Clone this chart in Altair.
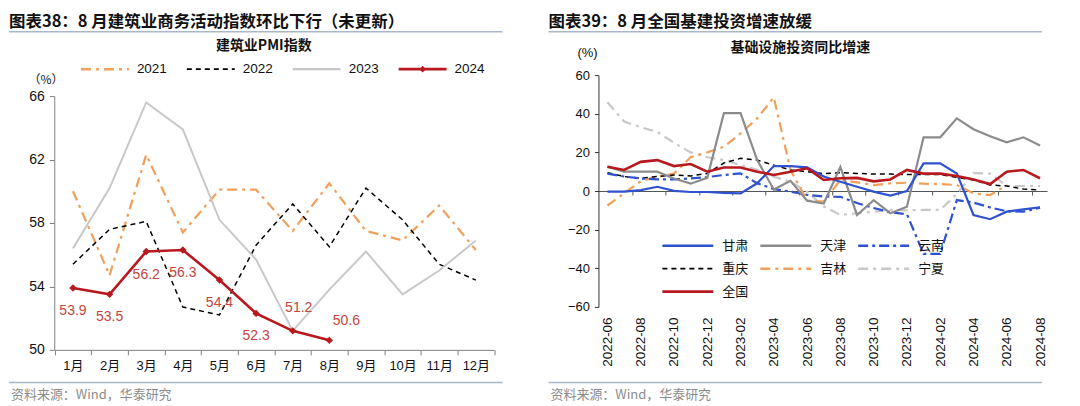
import json
import altair as alt
import pandas as pd

# ---------------- Left chart: 建筑业PMI指数 ----------------
pmi_months = list(range(1, 13))
pmi_years = ["2021", "2022", "2023", "2024"]
pmi_2021 = [60.0, 54.7, 62.3, 57.4, 60.1, 60.1, 57.5, 60.5, 57.5, 56.9, 59.1, 56.3]
pmi_2022 = [55.4, 57.6, 58.1, 52.7, 52.2, 56.6, 59.2, 56.5, 60.2, 58.2, 55.4, 54.4]
pmi_2023 = [56.4, 60.2, 65.6, 63.9, 58.2, 55.7, 51.2, 53.8, 56.2, 53.5, 55.0, 56.9]
pmi_2024 = [53.9, 53.5, 56.2, 56.3, 54.4, 52.3, 51.2, 50.6]
pmi_yticks = [50, 54, 58, 62, 66]

# ---------------- Right chart: 基础设施投资同比增速 ----------------
infra_periods = ["2022-06", "2022-07", "2022-08", "2022-09", "2022-10", "2022-11", "2022-12",
                 "2023-01", "2023-02", "2023-03", "2023-04", "2023-05", "2023-06", "2023-07",
                 "2023-08", "2023-09", "2023-10", "2023-11", "2023-12", "2024-01", "2024-02",
                 "2024-03", "2024-04", "2024-05", "2024-06", "2024-07", "2024-08"]
infra_labels = ["2022-06", "2022-08", "2022-10", "2022-12", "2023-02", "2023-04", "2023-06",
                "2023-08", "2023-10", "2023-12", "2024-02", "2024-04", "2024-06", "2024-08"]
infra_series = ["甘肃", "天津", "云南", "重庆", "吉林", "宁夏", "全国"]
gansu = [-0.3, -0.3, 0.5, 2.2, 0.1, -0.5, -0.5, -1.0, -1.2, 4.0, 12.9, 12.9, 12.2, 7.5,
         4.8, 2.2, -0.3, -2.4, 0.0, 14.3, 14.3, 9.1, -12.4, -14.6, -10.7, -9.5, -8.4]
tianjin = [12.6, 10.0, 10.0, 10.0, 6.5, 3.8, 6.8, 40.3, 40.3, 16.0, 0.8, 5.3, -5.0, -6.5,
           12.4, -12.4, -4.7, -11.5, -8.1, 27.8, 27.8, 37.6, 32.0, 28.4, 25.2, 27.8, 23.6]
yunnan = [9.0, 7.5, 6.5, 6.0, 6.0, 6.5, 7.2, 8.3, 9.1, 4.0, 1.0, -0.3, -2.0, -2.9,
          -3.0, -6.2, -8.8, -11.0, -12.0, -32.5, -32.5, -4.7, -6.0, -8.5, -10.5, -10.7, -8.6]
chongqing = [9.5, 7.5, 6.6, 7.5, 8.3, 7.8, 9.1, 14.5, 16.9, 16.0, 13.4, 10.9, 10.0, 9.0,
             9.5, 9.1, 8.8, 8.8, 8.5, 8.5, 8.5, 7.1, 5.7, 3.1, 2.6, 1.0, 0.5]
jilin = [-7.5, -1.2, 5.0, 7.4, 9.0, 17.5, 20.0, 22.9, 29.8, 37.6, 48.5, 11.0, -5.0, -5.5,
         5.7, 4.5, 3.1, 4.0, 4.3, 3.8, 3.6, 3.1, -1.2, -2.1, 3.0]
ningxia = [46.0, 36.0, 33.0, 30.6, 25.0, 20.0, 17.5, 16.0, 13.4, 11.0, 7.4, 4.8, -0.3, -8.0,
           -12.4, -11.5, -10.7, -9.8, -10.0, -9.8, -9.8, -1.5, 9.3, 9.0, 2.6, 2.6, 2.6]
national = [12.6, 10.9, 15.1, 16.0, 12.9, 14.0, 10.0, 12.2, 12.2, 10.0, 8.3, 10.0, 11.8, 5.7,
            6.6, 6.8, 5.0, 6.0, 10.9, 9.0, 9.0, 7.8, 6.0, 3.6, 10.0, 10.9, 6.6]
infra_yticks = [-60, -40, -20, 0, 20, 40, 60]

# ---------------- styles ----------------
FONT = "Liberation Sans, Noto Sans CJK SC, sans-serif"
CJK = "Noto Sans CJK SC, sans-serif"
RED = "#B8191E"
LABEL_RED = "#C4453E"
ORANGE = "#F0A05A"
LGRAY = "#C8C8C8"
MGRAY = "#8C8C8C"
BLUE = "#2F52D0"
AXIS = "#808080"
RULE = "#A9B7C7"
W, H = 532, 390

left_styles = {
    "2021": dict(color=ORANGE, strokeDash=[10, 5, 3, 5], strokeWidth=2.2),
    "2022": dict(color="#000000", strokeDash=[5, 4], strokeWidth=1.5),
    "2023": dict(color=LGRAY, strokeWidth=2.0),
    "2024": dict(color=RED, strokeWidth=2.6),
}
right_styles = {
    "甘肃": dict(color=BLUE, strokeWidth=2.2),
    "天津": dict(color=MGRAY, strokeWidth=2.2),
    "云南": dict(color=BLUE, strokeDash=[10, 4, 3, 4], strokeWidth=2.2),
    "重庆": dict(color="#000000", strokeDash=[5, 4], strokeWidth=1.5),
    "吉林": dict(color=ORANGE, strokeDash=[10, 5, 3, 5], strokeWidth=2.2),
    "宁夏": dict(color=LGRAY, strokeDash=[10, 5, 3, 5], strokeWidth=2.2),
    "全国": dict(color=RED, strokeWidth=2.6),
}


def one_row():
    return pd.DataFrame({"a": [0]})


def deco_text(text, x, y, **kw):
    return alt.Chart(pd.DataFrame({"t": [text]})).mark_text(**kw).encode(
        text="t:N", x=alt.value(x), y=alt.value(y))


def deco_rule(x1, x2, y, color=RULE, w=1.5):
    return alt.Chart(one_row()).mark_rule(color=color, strokeWidth=w).encode(
        x=alt.value(x1), x2=alt.value(x2), y=alt.value(y))


def legend_entry(label, x0, length, y, style, label_dx, font, size, diamond=False):
    st = dict(style)
    st["strokeWidth"] = st.get("strokeWidth", 2) + 0.3
    parts = [alt.Chart(one_row()).mark_rule(**st).encode(
        x=alt.value(x0), x2=alt.value(x0 + length), y=alt.value(y))]
    if diamond:
        parts.append(alt.Chart(one_row()).mark_point(shape="diamond", filled=True, size=45,
                                                     color=style["color"], opacity=1).encode(
            x=alt.value(x0 + length / 2), y=alt.value(y)))
    parts.append(deco_text(label, x0 + label_dx, y, align="left", baseline="middle",
                           font=font, fontSize=size, color="#111"))
    return parts


def half_tick_opacity():
    return {"condition": {"test": "datum.value % 1 == 0", "value": 0}, "value": 1}


# ---------------- left panel ----------------
rows = []
for yr, vals in zip(pmi_years, [pmi_2021, pmi_2022, pmi_2023, pmi_2024]):
    for m, v in zip(pmi_months, vals):
        rows.append({"m": m, "v": v, "s": yr})
df_left = pd.DataFrame(rows)
df_24 = pd.DataFrame({"m": pmi_months[:len(pmi_2024)], "v": pmi_2024,
                      "lab": [f"{v:.1f}" for v in pmi_2024]})

xL = alt.X("m:Q",
           scale=alt.Scale(domain=[0.5, 12.5], range=[45.7, 485.6], nice=False, zero=False),
           axis=alt.Axis(values=[k / 2 for k in range(1, 26)],
                         labelExpr="datum.value % 1 == 0 ? datum.value + '月' : ''",
                         tickOpacity=half_tick_opacity(), offset=-48, title=None, grid=False,
                         domainColor=AXIS, tickColor=AXIS, tickSize=5, labelPadding=5,
                         labelFontSize=13, labelFont=FONT, labelColor="#111",
                         labelFlush=False, labelOverlap=False, labelBound=False))
yL = alt.Y("v:Q",
           scale=alt.Scale(domain=[50, 66], range=[342, 88], nice=False, zero=False),
           axis=alt.Axis(values=pmi_yticks, offset=-45.3, title=None, grid=False,
                         domainColor=AXIS, tickColor=AXIS, tickSize=5, labelPadding=5,
                         labelFontSize=14, labelFont=FONT, labelColor="#111"))

left_lines = [
    alt.Chart(df_left).transform_filter(alt.datum.s == yr).mark_line(**left_styles[yr]).encode(x=xL, y=yL)
    for yr in pmi_years
]
pts_L = alt.Chart(df_24).mark_point(shape="diamond", filled=True, size=55, color=RED, opacity=1).encode(
    x=xL, y=yL)
lab_style = dict(fontSize=14, font=FONT, color=LABEL_RED)
lab_below = alt.Chart(df_24).transform_filter("datum.m <= 6").mark_text(dy=23, **lab_style).encode(
    x=xL, y=yL, text="lab:N")
lab_7 = alt.Chart(df_24).transform_filter("datum.m == 7").mark_text(dx=6, dy=-23, **lab_style).encode(
    x=xL, y=yL, text="lab:N")
lab_8 = alt.Chart(df_24).transform_filter("datum.m == 8").mark_text(dx=17, dy=-19, **lab_style).encode(
    x=xL, y=yL, text="lab:N")

left_legend = []
for k, yr in enumerate(pmi_years):
    left_legend += legend_entry(yr, 72 + 106 * k, 48, 61, left_styles[yr], 56, FONT, 13.5,
                                diamond=(yr == "2024"))

left = alt.layer(
    deco_text("图表38：8 月建筑业商务活动指数环比下行（未更新）", 0, 13.5, align="left", baseline="middle",
              font=CJK, fontSize=16.5, fontWeight="bold", color="#111"),
    deco_rule(0, 494, 23.5),
    deco_text("建筑业PMI指数", 255, 38, align="center", baseline="middle", font=CJK,
              fontSize=14, fontWeight="bold", color="#111"),
    deco_text("（%）", 37, 72, align="center", baseline="middle", font=CJK, fontSize=12, color="#111"),
    *left_legend,
    *left_lines, pts_L, lab_below, lab_7, lab_8,
    deco_rule(0, 494, 374.7),
    deco_text("资料来源：Wind，华泰研究", 2, 387, align="left", baseline="middle", font=CJK,
              fontSize=13, color=MGRAY),
).properties(width=W, height=H)

# ---------------- right panel ----------------
rows = []
for name, vals in zip(infra_series, [gansu, tianjin, yunnan, chongqing, jilin, ningxia, national]):
    for i, v in enumerate(vals):
        rows.append({"i": i, "v": v, "p": name})
df_right = pd.DataFrame(rows)

r_values = sorted([2 * k for k in range(14)] + [2 * k + 1.5 for k in range(13)])
r_label_expr = "datum.value % 2 == 0 ? " + json.dumps(infra_labels) + "[datum.value / 2] : ''"
xR = alt.X("i:Q",
           scale=alt.Scale(domain=[-0.54, 26.42], range=[58, 507], nice=False, zero=False),
           axis=alt.Axis(values=r_values, labelExpr=r_label_expr, tickOpacity=half_tick_opacity(),
                         offset=-207, title=None, grid=False, domainColor="#555555", domainWidth=1.2,
                         tickColor="#555555", tickSize=4, labelPadding=122, labelAngle=270,
                         labelFontSize=13.5, labelFont=FONT, labelColor="#111",
                         labelFlush=False, labelOverlap=False, labelBound=False))
yR = alt.Y("v:Q",
           scale=alt.Scale(domain=[-60, 60], range=[299, 67], nice=False, zero=False),
           axis=alt.Axis(values=infra_yticks, offset=-58, title=None, grid=False,
                         domainColor="#333333", tickColor="#333333", tickSize=4, labelPadding=5,
                         labelFontSize=13, labelFont=FONT, labelColor="#111"))

draw_order = ["宁夏", "吉林", "重庆", "云南", "天津", "甘肃", "全国"]
right_lines = [
    alt.Chart(df_right).transform_filter(alt.datum.p == name).mark_line(**right_styles[name]).encode(
        x=xR, y=yR)
    for name in draw_order
]

right_legend = []
for k, name in enumerate(infra_series):
    r, c = divmod(k, 3)
    right_legend += legend_entry(name, 122 + 98 * c, 51, 237.7 + 23 * r, right_styles[name], 60, CJK, 13)

right = alt.layer(
    deco_text("图表39：8 月全国基建投资增速放缓", 8, 13.5, align="left", baseline="middle",
              font=CJK, fontSize=16.5, fontWeight="bold", color="#111"),
    deco_rule(8, 502, 23.5),
    deco_text("基础设施投资同比增速", 260, 39.5, align="center", baseline="middle", font=CJK,
              fontSize=14, fontWeight="bold", color="#111"),
    deco_text("(%)", 47, 44.5, align="center", baseline="middle", font=FONT, fontSize=13, color="#111"),
    *right_lines,
    *right_legend,
    deco_rule(8, 502, 374.7),
    deco_text("资料来源：Wind，华泰研究", 10, 387, align="left", baseline="middle", font=CJK,
              fontSize=13, color=MGRAY),
).properties(width=W, height=H)

chart = alt.hconcat(left, right, spacing=0).resolve_scale(
    x="independent", y="independent",
).properties(padding=0, background="white").configure_view(stroke=None)

chart.save("out.html", embed_options={"renderer": "svg", "actions": False})
